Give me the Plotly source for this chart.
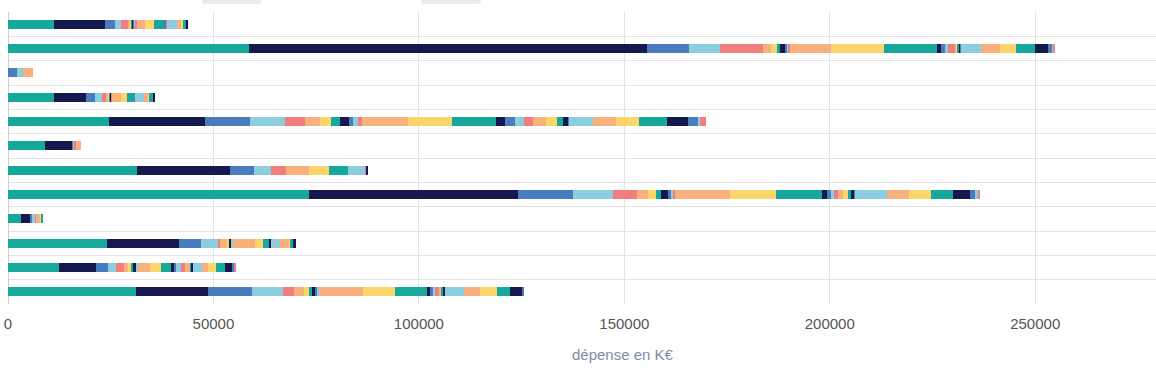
import plotly.graph_objects as go

# Row labels (hidden in the reference, which is cropped on the left)
categories = ["Ligne 1", "Ligne 2", "Ligne 3", "Ligne 4", "Ligne 5", "Ligne 6",
              "Ligne 7", "Ligne 8", "Ligne 9", "Ligne 10", "Ligne 11", "Ligne 12"]

# 33 stacked components per row (K€), top row first
row_01 = [11100, 12600, 2300, 1500, 1800, 400, 400, 200, 300, 200, 300, 200,
          2000, 2200, 2500, 200, 300, 100, 100, 100, 0, 0, 0, 0,
          2400, 0, 1100, 300, 700, 500, 0, 0, 0]
row_02 = [58700, 96900, 10200, 7600, 10400, 2000, 1400, 600, 1400, 300, 500, 300,
          9900, 13000, 12900, 1000, 1000, 600, 1900, 300, 200, 400, 300, 200,
          4700, 0, 4700, 4000, 4500, 3200, 1000, 400, 200]
row_03 = [0, 0, 2100, 1600, 0, 2500, 0, 0, 0, 0, 0, 0,
          0, 0, 0, 0, 0, 0, 0, 0, 0, 0, 0, 0,
          0, 0, 0, 0, 0, 0, 0, 0, 0]
row_04 = [11200, 7800, 2200, 1600, 1000, 600, 300, 200, 300, 0, 0, 100,
          2100, 1500, 1800, 100, 100, 0, 0, 0, 0, 0, 0, 0,
          2200, 0, 1000, 200, 900, 600, 0, 0, 0]
row_05 = [24600, 23300, 11100, 8400, 5000, 3500, 2700, 2200, 2200, 1000, 1200, 1000,
          11200, 10600, 10800, 2200, 2300, 2300, 2200, 3100, 2700, 1400, 1300, 200,
          5900, 0, 5600, 5600, 6800, 5200, 2300, 600, 1400]
row_06 = [9000, 6700, 300, 300, 200, 1200, 0, 0, 0, 0, 0, 0,
          0, 0, 0, 0, 0, 0, 0, 0, 0, 0, 0, 0,
          0, 0, 0, 0, 0, 0, 0, 0, 0]
row_07 = [31500, 22500, 5900, 4100, 3600, 5700, 4800, 4600, 0, 0, 4400, 200,
          0, 0, 0, 400, 0, 0, 0, 0, 0, 0, 0, 0,
          0, 0, 0, 0, 0, 0, 0, 0, 0]
row_08 = [73300, 50900, 13300, 9800, 5700, 2800, 1900, 1300, 1700, 800, 400, 400,
          13400, 11200, 11200, 1300, 1000, 600, 900, 1200, 1400, 600, 900, 200,
          7700, 0, 5300, 5500, 5300, 4100, 1200, 700, 500]
row_09 = [3100, 2400, 400, 700, 200, 1000, 400, 400, 0, 0, 0, 0,
          0, 0, 0, 0, 0, 0, 0, 0, 0, 0, 0, 0,
          0, 0, 0, 0, 0, 0, 0, 0, 0]
row_10 = [24200, 17400, 5400, 4200, 400, 1600, 600, 200, 300, 200, 200, 0,
          5400, 1900, 1600, 300, 0, 1100, 100, 100, 0, 0, 0, 0,
          1000, 0, 2200, 200, 800, 600, 0, 0, 0]
row_11 = [12400, 9000, 3000, 2000, 1800, 1100, 600, 600, 600, 0, 500, 0,
          2900, 2700, 2500, 700, 600, 1000, 1100, 1200, 0, 400, 400, 0,
          2000, 0, 1600, 1900, 2200, 1600, 700, 0, 500]
row_12 = [31100, 17600, 10600, 7700, 2700, 2300, 1300, 600, 1000, 400, 400, 0,
          10600, 7900, 7800, 800, 700, 500, 900, 600, 0, 400, 400, 0,
          4700, 0, 3800, 4100, 3200, 2900, 600, 0, 0]

rows = [row_01, row_02, row_03, row_04, row_05, row_06,
        row_07, row_08, row_09, row_10, row_11, row_12]

series_names = [f"Poste {i + 1}" for i in range(33)]

tick_values = [0, 50000, 100000, 150000, 200000, 250000]
tick_labels = ["0", "50000", "100000", "150000", "200000", "250000"]

palette = ["#17a89c", "#15194d", "#4a7bbd", "#8ccde0", "#f27d7d", "#f8b17d", "#fdd66b"]

fig = go.Figure()
for j, name in enumerate(series_names):
    fig.add_trace(go.Bar(
        y=categories,
        x=[r[j] for r in rows],
        name=name,
        orientation="h",
        marker=dict(color=palette[j % len(palette)], line=dict(width=0)),
        showlegend=False,
    ))

font_family = "Helvetica Neue, Liberation Sans, Arial, sans-serif"

fig.update_layout(
    width=1156, height=378,
    barmode="stack",
    bargap=0.62,
    plot_bgcolor="white",
    paper_bgcolor="white",
    margin=dict(l=8, r=0, t=12, b=74, pad=0),
    font=dict(family=font_family),
    xaxis=dict(
        range=[0, 279400],
        tickvals=tick_values,
        ticktext=tick_labels,
        showgrid=True,
        gridcolor="#e3e3e3",
        gridwidth=1,
        zeroline=True,
        zerolinecolor="#cfcfcf",
        zerolinewidth=1,
        ticks="outside",
        ticklen=6,
        tickcolor="rgba(0,0,0,0)",
        tickfont=dict(size=15, color="#555555"),
        automargin=False,
        fixedrange=True,
    ),
    yaxis=dict(
        type="category",
        categoryorder="array",
        categoryarray=categories,
        autorange="reversed",
        tickson="boundaries",
        showgrid=True,
        gridcolor="#e3e3e3",
        gridwidth=1,
        showticklabels=False,
        ticks="",
        zeroline=False,
        automargin=False,
        fixedrange=True,
    ),
    annotations=[dict(
        text="dépense en K€",
        xref="paper", yref="paper",
        x=(623 - 8) / 1148, y=-(354 - 304) / 292,
        xanchor="center", yanchor="middle",
        showarrow=False,
        font=dict(size=15, color="#7e8ba6", family=font_family),
    )],
    shapes=[
        dict(type="rect", xref="paper", yref="paper",
             x0=(203 - 8) / 1148, x1=(260 - 8) / 1148,
             y0=1 + 9 / 292, y1=1 + 12 / 292,
             fillcolor="#eeeeee", line=dict(color="#e2e2e2", width=1)),
        dict(type="rect", xref="paper", yref="paper",
             x0=(422 - 8) / 1148, x1=(480 - 8) / 1148,
             y0=1 + 9 / 292, y1=1 + 12 / 292,
             fillcolor="#eeeeee", line=dict(color="#e2e2e2", width=1)),
    ],
)

# Remove the browser's default 8px body margin so the figure fills the window.
fig.write_html(
    "out.html",
    config={"displayModeBar": False},
    post_script="document.body.style.margin='0';",
)
